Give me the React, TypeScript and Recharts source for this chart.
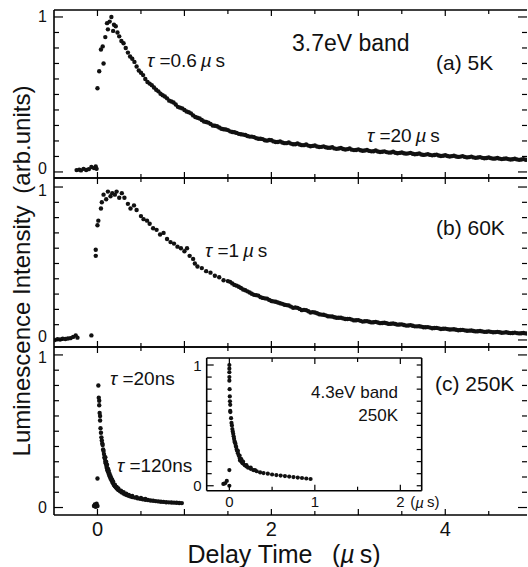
import { ScatterChart, Scatter, XAxis, YAxis } from 'recharts';

const W = 528;
const H = 567;
const FONT = '"Liberation Sans", Arial, Helvetica, sans-serif';

// ---- panel (a) 5K, 3.7eV band ----
const aTime = [
  -0.24, -0.21, -0.19, -0.16, -0.13, -0.1, -0.07, -0.04, -0.02, -0.01,
  0.0, 0.02, 0.04, 0.06, 0.07, 0.09, 0.11, 0.12, 0.14, 0.16, 0.18, 0.19, 0.21, 0.23,
  0.25, 0.3, 0.35, 0.4, 0.45, 0.5, 0.55, 0.6, 0.65, 0.7, 0.75, 0.8, 0.85, 0.9, 0.95,
  1.0, 1.05, 1.1, 1.15, 1.2, 1.25, 1.3, 1.35, 1.4, 1.45, 1.5, 1.55, 1.6, 1.65, 1.7, 1.75,
  1.8, 1.85, 1.9, 1.95, 2.0, 2.05, 2.1, 2.15, 2.2, 2.25, 2.3, 2.35, 2.4, 2.45, 2.5, 2.55,
  2.6, 2.65, 2.7, 2.75, 2.8, 2.85, 2.9, 2.95, 3.0, 3.05, 3.1, 3.15, 3.2, 3.25, 3.3, 3.35,
  3.4, 3.45, 3.5, 3.55, 3.6, 3.65, 3.7, 3.75, 3.8, 3.85, 3.9, 3.95, 4.0, 4.05, 4.1, 4.15,
  4.2, 4.25, 4.3, 4.35, 4.4, 4.45, 4.5, 4.55, 4.6, 4.65, 4.7, 4.75, 4.8, 4.85, 4.9, 4.95,
];
const aSignal = [
  0.012, 0.015, 0.01, 0.02, 0.013, 0.018, 0.032, 0.025, 0.035, 0.02,
  0.54, 0.65, 0.79, 0.81, 0.7, 0.87, 0.96, 0.92, 0.97, 1.0, 0.91, 0.95, 0.94, 0.9,
  0.875, 0.83, 0.77, 0.73, 0.68, 0.64, 0.6, 0.57, 0.545, 0.52, 0.495, 0.475, 0.455, 0.435, 0.415,
  0.4, 0.385, 0.365, 0.35, 0.335, 0.322, 0.31, 0.298, 0.287, 0.276, 0.27, 0.258, 0.252, 0.243, 0.238, 0.228,
  0.225, 0.214, 0.212, 0.202, 0.205, 0.193, 0.197, 0.186, 0.19, 0.179, 0.184, 0.173, 0.177, 0.166, 0.171, 0.161,
  0.165, 0.156, 0.159, 0.149, 0.155, 0.145, 0.151, 0.141, 0.146, 0.137, 0.142, 0.133, 0.138, 0.129, 0.133, 0.125,
  0.13, 0.121, 0.126, 0.118, 0.123, 0.114, 0.119, 0.11, 0.115, 0.107, 0.112, 0.103, 0.108, 0.1, 0.105, 0.097,
  0.102, 0.094, 0.099, 0.091, 0.096, 0.088, 0.093, 0.086, 0.09, 0.083, 0.087, 0.08, 0.085, 0.078, 0.083, 0.077,
];
// second sweep of samples in between
const aTime2 = [
  0.275, 0.325, 0.375, 0.425, 0.475, 0.525, 0.575, 0.625, 0.675, 0.725, 0.775, 0.825, 0.875, 0.925, 0.975,
  1.025, 1.075, 1.125, 1.175, 1.225, 1.275, 1.325, 1.375, 1.425, 1.475, 1.525, 1.575, 1.625, 1.675, 1.725,
  1.775, 1.825, 1.875, 1.925, 1.975, 2.025, 2.075, 2.125, 2.175, 2.225, 2.275, 2.325, 2.375, 2.425, 2.475,
  2.525, 2.575, 2.625, 2.675, 2.725, 2.775, 2.825, 2.875, 2.925, 2.975, 3.025, 3.075, 3.125, 3.175, 3.225,
  3.275, 3.325, 3.375, 3.425, 3.475, 3.525, 3.575, 3.625, 3.675, 3.725, 3.775, 3.825, 3.875, 3.925, 3.975,
  4.025, 4.075, 4.125, 4.175, 4.225, 4.275, 4.325, 4.375, 4.425, 4.475, 4.525, 4.575, 4.625, 4.675, 4.725,
  4.775, 4.825, 4.875, 4.925,
];
const aSignal2 = [
  0.845, 0.8, 0.745, 0.71, 0.655, 0.625, 0.58, 0.56, 0.53, 0.505, 0.487, 0.46, 0.448, 0.42, 0.41,
  0.39, 0.378, 0.355, 0.345, 0.326, 0.318, 0.3, 0.295, 0.279, 0.274, 0.262, 0.256, 0.246, 0.241, 0.232,
  0.228, 0.218, 0.214, 0.205, 0.206, 0.197, 0.193, 0.19, 0.186, 0.183, 0.179, 0.177, 0.173, 0.17, 0.168,
  0.164, 0.162, 0.159, 0.156, 0.152, 0.151, 0.148, 0.147, 0.144, 0.142, 0.14, 0.138, 0.136, 0.134, 0.132,
  0.13, 0.128, 0.126, 0.124, 0.123, 0.121, 0.12, 0.117, 0.116, 0.113, 0.112, 0.11, 0.109, 0.106, 0.105,
  0.103, 0.102, 0.1, 0.099, 0.097, 0.096, 0.094, 0.093, 0.091, 0.09, 0.089, 0.087, 0.086, 0.085, 0.083,
  0.082, 0.081, 0.08, 0.079,
];

// ---- panel (b) 60K ----
const bTime = [
  -0.49, -0.46, -0.43, -0.4, -0.37, -0.34, -0.31, -0.28, -0.25, -0.23, -0.07,
  -0.02, -0.02, 0.0, 0.01, 0.04, 0.05, 0.07, 0.1, 0.12, 0.15, 0.17, 0.2, 0.22, 0.25, 0.28, 0.31,
  0.35, 0.38, 0.42, 0.45, 0.5, 0.53, 0.57, 0.6, 0.64, 0.68, 0.72, 0.76, 0.8, 0.84, 0.88, 0.92, 0.96,
  1.0, 1.03, 1.06, 1.1, 1.12, 1.15, 1.2, 1.25, 1.3, 1.35, 1.4, 1.45, 1.5, 1.55, 1.6, 1.65, 1.7, 1.75,
  1.8, 1.85, 1.9, 1.95, 2.0, 2.05, 2.1, 2.15, 2.2, 2.25, 2.3, 2.35, 2.4, 2.45, 2.5, 2.55, 2.6, 2.65,
  2.7, 2.75, 2.8, 2.85, 2.9, 2.95, 3.0, 3.05, 3.1, 3.15, 3.2, 3.25, 3.3, 3.35, 3.4, 3.45, 3.5, 3.55,
  3.6, 3.65, 3.7, 3.75, 3.8, 3.85, 3.9, 3.95, 4.0, 4.05, 4.1, 4.15, 4.2, 4.25, 4.3, 4.35, 4.4, 4.45,
  4.5, 4.55, 4.6, 4.65, 4.7, 4.75, 4.8, 4.85, 4.9, 4.95,
];
const bSignal = [
  0.0, 0.005, 0.003, 0.008, 0.006, 0.01, 0.012, 0.02, 0.03, 0.015, 0.03,
  0.55, 0.59, 0.75, 0.78, 0.86, 0.9, 0.95, 0.92, 0.97, 0.94, 0.96, 0.95, 0.97, 0.93, 0.96, 0.93,
  0.89, 0.86, 0.88, 0.85, 0.81, 0.79, 0.78, 0.76, 0.73, 0.72, 0.69, 0.7, 0.66, 0.64, 0.63, 0.61, 0.6,
  0.58, 0.6, 0.55, 0.53, 0.5, 0.48, 0.47, 0.45, 0.44, 0.42, 0.41, 0.39, 0.385, 0.37, 0.355, 0.34, 0.325, 0.31,
  0.295, 0.29, 0.275, 0.27, 0.255, 0.25, 0.24, 0.23, 0.225, 0.21, 0.21, 0.195, 0.195, 0.18, 0.18, 0.168, 0.165, 0.155,
  0.153, 0.145, 0.145, 0.137, 0.138, 0.128, 0.13, 0.12, 0.123, 0.115, 0.118, 0.11, 0.113, 0.105, 0.108, 0.1, 0.102, 0.094,
  0.097, 0.089, 0.09, 0.083, 0.084, 0.077, 0.079, 0.072, 0.074, 0.068, 0.07, 0.064, 0.066, 0.06, 0.062, 0.056, 0.059, 0.053,
  0.056, 0.05, 0.053, 0.047, 0.05, 0.045, 0.048, 0.043, 0.046, 0.042,
];
const bTime2 = [
  1.525, 1.575, 1.625, 1.675, 1.725, 1.775, 1.825, 1.875, 1.925, 1.975, 2.025, 2.075, 2.125, 2.175, 2.225,
  2.275, 2.325, 2.375, 2.425, 2.475, 2.525, 2.575, 2.625, 2.675, 2.725, 2.775, 2.825, 2.875, 2.925, 2.975,
  3.025, 3.075, 3.125, 3.175, 3.225, 3.275, 3.325, 3.375, 3.425, 3.475, 3.525, 3.575, 3.625, 3.675, 3.725,
  3.775, 3.825, 3.875, 3.925, 3.975, 4.025, 4.075, 4.125, 4.175, 4.225, 4.275, 4.325, 4.375, 4.425, 4.475,
  4.525, 4.575, 4.625, 4.675, 4.725, 4.775, 4.825, 4.875, 4.925,
];
const bSignal2 = [
  0.38, 0.36, 0.348, 0.33, 0.318, 0.302, 0.293, 0.28, 0.272, 0.262, 0.252, 0.245, 0.236, 0.228, 0.218,
  0.212, 0.203, 0.197, 0.188, 0.182, 0.175, 0.166, 0.161, 0.154, 0.149, 0.145, 0.141, 0.137, 0.133, 0.129,
  0.125, 0.122, 0.119, 0.116, 0.114, 0.111, 0.109, 0.106, 0.104, 0.101, 0.098, 0.095, 0.093, 0.089, 0.087,
  0.083, 0.081, 0.078, 0.076, 0.073, 0.071, 0.069, 0.067, 0.065, 0.063, 0.061, 0.059, 0.057, 0.056, 0.054,
  0.053, 0.051, 0.05, 0.048, 0.047, 0.046, 0.045, 0.044, 0.043,
];

// ---- panel (c) 250K ----
const cTime = [
  -0.04, -0.03, -0.02, -0.01, 0.0, 0.0, 0.01, 0.015, 0.02, 0.02, 0.025, 0.03, 0.03, 0.035, 0.04, 0.045,
  0.05, 0.055, 0.06, 0.065, 0.07, 0.075, 0.08, 0.085, 0.09, 0.095, 0.1, 0.105, 0.11, 0.115, 0.12, 0.13,
  0.14, 0.15, 0.16, 0.17, 0.18, 0.19, 0.2, 0.21, 0.22, 0.23, 0.24, 0.26, 0.28, 0.3, 0.32, 0.34, 0.36,
  0.38, 0.4, 0.43, 0.46, 0.49, 0.52, 0.55, 0.58, 0.61, 0.64, 0.67, 0.7, 0.73, 0.76, 0.79, 0.82, 0.85,
  0.88, 0.91, 0.94, 0.97,
  0.09, 0.1, 0.11, 0.12, 0.13, 0.14, 0.15, 0.16, 0.17, 0.18, 0.2, 0.22, 0.24, 0.27, 0.3, 0.33, 0.36,
  0.4, 0.45, 0.5, 0.55,
];
const cSignal = [
  0.01, 0.02, 0.005, 0.025, 0.01, 0.19, 0.8, 0.72, 0.7, 0.67, 0.62, 0.6, 0.57, 0.52, 0.49, 0.46,
  0.44, 0.42, 0.41, 0.38, 0.37, 0.35, 0.33, 0.32, 0.3, 0.29, 0.28, 0.265, 0.255, 0.245, 0.235, 0.22,
  0.205, 0.19, 0.18, 0.168, 0.158, 0.148, 0.14, 0.134, 0.127, 0.121, 0.115, 0.106, 0.099, 0.092, 0.086, 0.081, 0.077,
  0.073, 0.069, 0.065, 0.061, 0.057, 0.054, 0.051, 0.049, 0.046, 0.044, 0.042, 0.04, 0.038, 0.037, 0.035, 0.034, 0.033,
  0.032, 0.031, 0.03, 0.029,
  0.33, 0.3, 0.28, 0.255, 0.24, 0.22, 0.205, 0.19, 0.18, 0.17, 0.15, 0.135, 0.125, 0.11, 0.1, 0.09, 0.083,
  0.076, 0.068, 0.062, 0.056,
];

// ---- inset: 4.3eV band, 250K ----
const iTime = [
  -0.07, -0.05, -0.03, 0.0, 0.0, 0.0, 0.0, 0.0, 0.0, 0.0, 0.003, 0.005, 0.007, 0.01, 0.01, 0.012,
  0.02, 0.025, 0.03, 0.035, 0.04, 0.045, 0.05, 0.055, 0.06, 0.065, 0.07, 0.075, 0.08, 0.086, 0.09,
  0.1, 0.11, 0.12, 0.125, 0.13, 0.14, 0.15, 0.16, 0.18, 0.2, 0.22, 0.25, 0.28, 0.32, 0.36, 0.4, 0.45,
  0.5, 0.55, 0.6, 0.65, 0.7, 0.75, 0.8, 0.85, 0.9, 0.95,
  0.1, 0.12, 0.14, 0.16, 0.2, 0.25, 0.3,
];
const iSignal = [
  0.015, 0.02, 0.04, 0.0, 0.13, 1.0, 0.97, 0.94, 0.9, 0.87, 0.8, 0.74, 0.7, 0.67, 0.62, 0.61,
  0.56, 0.52, 0.5, 0.47, 0.45, 0.43, 0.41, 0.39, 0.37, 0.36, 0.35, 0.33, 0.32, 0.3, 0.29,
  0.27, 0.25, 0.23, 0.21, 0.22, 0.2, 0.19, 0.185, 0.17, 0.16, 0.15, 0.14, 0.13, 0.12, 0.11, 0.105, 0.1,
  0.093, 0.088, 0.084, 0.08, 0.076, 0.072, 0.068, 0.064, 0.06, 0.056,
  0.29, 0.25, 0.22, 0.2, 0.17, 0.15, 0.13,
];

const X_TICKS = [0, 0.5, 1, 1.5, 2, 2.5, 3, 3.5, 4, 4.5];
const X_LABELS = [0, 2, 4];
const Y_TICKS = [0, 0.1, 0.2, 0.3, 0.4, 0.5, 0.6, 0.7, 0.8, 0.9, 1];
const INSET_X_TICKS = [0, 0.5, 1, 1.5, 2];

const zip = (t: number[], v: number[]) => t.map((x, i) => ({ t: x, v: v[i] }));

const frame = { stroke: '#000', strokeWidth: 1.6 };

const txt = (size: number) => ({ fontFamily: FONT, fontSize: size, fill: '#111' });

function makeDot(r: number) {
  return (p: any) => <circle cx={p.cx} cy={p.cy} r={r} fill="#111" />;
}

function xTick(dir: 1 | -1, labels: number[], fs: number, gap: number, unitAfter?: number) {
  return (p: any) => {
    const v = p.payload.value;
    const len = Number.isInteger(v) ? 6 : 4;
    return (
      <g>
        <line x1={p.x} x2={p.x} y1={p.y} y2={p.y + dir * len} stroke="#000" strokeWidth={1.2} />
        {labels.includes(v) && (
          <text x={p.x} y={p.y + gap} textAnchor="middle" dominantBaseline="central" {...txt(fs)}>
            {v}
          </text>
        )}
        {unitAfter === v && (
          <text x={p.x + 10} y={p.y + gap} dominantBaseline="central" {...txt(fs)}>
            (<tspan fontStyle="italic">µ</tspan>{'\u2009'}s)
          </text>
        )}
      </g>
    );
  };
}

// nudge0 / nudge1 push the "0" label up and the "1" label down where panels meet
function yTick(dir: 1 | -1, labelled: boolean, fs: number, gap: number, major: number, minor: number, nudge0 = 0, nudge1 = 0) {
  return (p: any) => {
    const v = p.payload.value;
    const isMajor = v === 0 || v === 1;
    return (
      <g>
        <line x1={p.x} x2={p.x + dir * (isMajor ? major : minor)} y1={p.y} y2={p.y} stroke="#000" strokeWidth={1.2} />
        {labelled && isMajor && (
          <text x={p.x - gap} y={p.y + (v === 0 ? -nudge0 : nudge1)} textAnchor="end" dominantBaseline="central" {...txt(fs)}>
            {v}
          </text>
        )}
      </g>
    );
  };
}

type PanelProps = {
  data: { t: number; v: number }[];
  top: number;
  bottom: number;
  yDomain: [number, number];
  labelX?: boolean;
  nudge0?: number;
  nudge1?: number;
};

// axes of size 1 px: recharts skips drawing an axis whose width or height is 0
function Panel({ data, top, bottom, yDomain, labelX, nudge0 = 0, nudge1 = 0 }: PanelProps) {
  return (
    <div style={{ position: 'absolute', left: 0, top: 0 }}>
      <ScatterChart width={W} height={H} margin={{ top: top - 1, right: 0, bottom: H - bottom - 1, left: 0 }}>
        <XAxis xAxisId="b" type="number" dataKey="t" domain={[-0.5, 4.94]} ticks={X_TICKS} interval={0}
          orientation="bottom" height={1} tickSize={0} tickMargin={0} tickLine={false} axisLine={frame}
          allowDataOverflow tick={xTick(-1, labelX ? X_LABELS : [], 20, 14)} />
        <XAxis xAxisId="t" type="number" dataKey="t" domain={[-0.5, 4.94]} ticks={X_TICKS} interval={0}
          orientation="top" height={1} tickSize={0} tickMargin={0} tickLine={false} axisLine={frame}
          allowDataOverflow tick={xTick(1, [], 20, 0)} />
        <YAxis yAxisId="l" type="number" dataKey="v" domain={yDomain} ticks={Y_TICKS} interval={0}
          width={54} tickSize={0} tickMargin={0} tickLine={false} axisLine={frame}
          allowDataOverflow tick={yTick(1, true, 16, 7, 9, 5, nudge0, nudge1)} />
        <YAxis yAxisId="r" orientation="right" type="number" dataKey="v" domain={yDomain} ticks={Y_TICKS} interval={0}
          width={1} tickSize={0} tickMargin={0} tickLine={false} axisLine={false}
          allowDataOverflow tick={yTick(-1, false, 16, 7, 9, 5)} />
        <Scatter data={data} xAxisId="b" yAxisId="l" dataKey="v" shape={makeDot(2.2)} isAnimationActive={false} />
        <Scatter data={data} xAxisId="t" yAxisId="r" dataKey="v" shape={() => <g />} isAnimationActive={false} />
      </ScatterChart>
    </div>
  );
}

function Inset() {
  const data = zip(iTime, iSignal);
  const dom: [number, number] = [-0.041, 1.058];
  const xdom: [number, number] = [-0.265, 2.25];
  return (
    <div style={{ position: 'absolute', left: 0, top: 0 }}>
      <ScatterChart width={W} height={H} margin={{ top: 357, right: 105.3, bottom: H - 491.7, left: 176.7 }}>
        <XAxis xAxisId="b" type="number" dataKey="t" domain={xdom} ticks={INSET_X_TICKS} interval={0}
          orientation="bottom" height={1} tickSize={0} tickMargin={0} tickLine={false} axisLine={frame}
          allowDataOverflow tick={xTick(-1, [0, 1, 2], 15, 11, 2)} />
        <XAxis xAxisId="t" type="number" dataKey="t" domain={xdom} ticks={INSET_X_TICKS} interval={0}
          orientation="top" height={1} tickSize={0} tickMargin={0} tickLine={false} axisLine={frame}
          allowDataOverflow tick={xTick(1, [], 15, 0)} />
        <YAxis yAxisId="l" type="number" dataKey="v" domain={dom} ticks={Y_TICKS} interval={0}
          width={30} tickSize={0} tickMargin={0} tickLine={false} axisLine={frame}
          allowDataOverflow tick={yTick(1, true, 15, 5, 7, 5)} />
        <YAxis yAxisId="r" orientation="right" type="number" dataKey="v" domain={dom} ticks={Y_TICKS} interval={0}
          width={1} tickSize={0} tickMargin={0} tickLine={false} axisLine={frame}
          allowDataOverflow tick={yTick(-1, false, 15, 5, 5, 5)} />
        <Scatter data={data} xAxisId="b" yAxisId="l" dataKey="v" shape={makeDot(2.1)} isAnimationActive={false} />
        <Scatter data={data} xAxisId="t" yAxisId="r" dataKey="v" shape={() => <g />} isAnimationActive={false} />
      </ScatterChart>
    </div>
  );
}

const Tau = ({ x, y, value, unit }: { x: number; y: number; value: string; unit: string }) => (
  <text x={x} y={y} dominantBaseline="central" {...txt(19)}>
    <tspan fontStyle="italic">τ</tspan> ={value}
    {unit === 'us' ? (
      <>
        {'\u2009'}<tspan fontStyle="italic">µ</tspan>{'\u2009'}s
      </>
    ) : (
      'ns'
    )}
  </text>
);

export default function App() {
  return (
    <div style={{ position: 'absolute', left: 0, top: 0, width: W, height: H, background: '#fff' }}>
      <Panel data={[...zip(aTime, aSignal), ...zip(aTime2, aSignal2)]} top={10} bottom={178} yDomain={[-0.039, 1.045]} nudge0={3} />
      <Panel data={[...zip(bTime, bSignal), ...zip(bTime2, bSignal2)]} top={178} bottom={347} yDomain={[-0.046, 1.059]} nudge0={3} nudge1={3} />
      <Panel data={zip(cTime, cSignal)} top={347} bottom={515} yDomain={[-0.049, 1.052]} labelX nudge1={3} />
      <Inset />
      <svg width={W} height={H} style={{ position: 'absolute', left: 0, top: 0, pointerEvents: 'none' }}>
        <text x={292} y={43} dominantBaseline="central" {...txt(23)}>3.7eV band</text>
        <text x={436} y={62} dominantBaseline="central" {...txt(21)}>(a) 5K</text>
        <text x={436} y={227} dominantBaseline="central" {...txt(21)}>(b) 60K</text>
        <text x={435} y={383} dominantBaseline="central" {...txt(21)}>(c) 250K</text>
        <Tau x={147} y={60} value="0.6" unit="us" />
        <Tau x={367} y={135} value="20" unit="us" />
        <Tau x={205} y={250} value="1" unit="us" />
        <Tau x={110} y={378} value="20" unit="ns" />
        <Tau x={117} y={465} value="120" unit="ns" />
        <text x={398} y={392} textAnchor="end" dominantBaseline="central" {...txt(17)}>4.3eV band</text>
        <text x={398} y={415} textAnchor="end" dominantBaseline="central" {...txt(17)}>250K</text>
        <text x={284} y={554} textAnchor="middle" dominantBaseline="central" {...txt(25)}>
          Delay Time{'\u2002'} (<tspan fontStyle="italic">µ</tspan>{'\u2009'}s)
        </text>
        <text x={21} y={271} textAnchor="middle" dominantBaseline="central" transform="rotate(-90 21 271)" {...txt(24)}>
          Luminescence Intensity{'\u2002'}(arb.units)
        </text>
      </svg>
    </div>
  );
}
